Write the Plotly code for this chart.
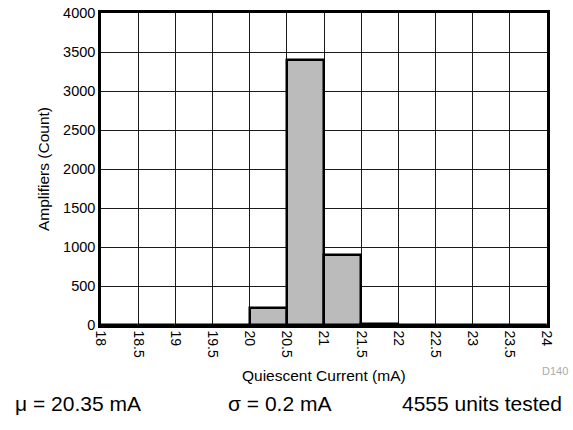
import plotly.graph_objects as go

bin_left = [18.0, 18.5, 19.0, 19.5, 20.0, 20.5, 21.0, 21.5, 22.0, 22.5, 23.0, 23.5]
counts = [0, 0, 0, 0, 222, 3400, 900, 18, 0, 0, 0, 0]
bin_width = 0.5
x_ticks = [18, 18.5, 19, 19.5, 20, 20.5, 21, 21.5, 22, 22.5, 23, 23.5, 24]
x_tick_labels = ["18", "18.5", "19", "19.5", "20", "20.5", "21", "21.5", "22", "22.5", "23", "23.5", "24"]
y_ticks = [0, 500, 1000, 1500, 2000, 2500, 3000, 3500, 4000]

x_title = "Quiescent Current (mA)"
y_title = "Amplifiers (Count)"
stats = ["μ = 20.35 mA", "σ = 0.2 mA", "4555 units tested"]
code = "D140"

FONT = "Liberation Sans, Arial, sans-serif"

fig = go.Figure()
fig.add_trace(go.Bar(
    x=[b + bin_width / 2 for b in bin_left],
    y=counts,
    width=[bin_width] * len(bin_left),
    marker=dict(color="#bbbbbb", line=dict(color="black", width=2.5)),
    showlegend=False,
    hoverinfo="skip",
))

fig.update_layout(
    width=573, height=430,
    autosize=False,
    margin=dict(l=101, r=26, t=13, b=105, pad=0, autoexpand=False),
    paper_bgcolor="white", plot_bgcolor="white",
    font=dict(family=FONT, color="black", size=14),
    bargap=0,
    xaxis=dict(
        range=[18, 24], tickvals=x_ticks, ticktext=x_tick_labels, tickangle=90,
        showgrid=True, gridcolor="#1a1a1a", gridwidth=1.2,
        showline=True, linecolor="black", linewidth=2.5, mirror=True,
        ticks="", zeroline=False, tickfont=dict(size=14), automargin=False,
    ),
    yaxis=dict(
        range=[0, 4000], tickvals=y_ticks,
        showgrid=True, gridcolor="#1a1a1a", gridwidth=1.2,
        showline=True, linecolor="black", linewidth=2.5, mirror=True,
        ticks="", zeroline=False, tickfont=dict(size=14.5), automargin=False,
    ),
)

ann = [
    dict(text=x_title, x=0.5, y=-0.163, xanchor="center", yanchor="middle", font=dict(size=15.5)),
    dict(text=y_title, x=-0.13, y=0.5, xanchor="center", yanchor="middle", textangle=-90, font=dict(size=15.5)),
    dict(text=code, x=1.018, y=-0.147, xanchor="center", yanchor="middle", font=dict(size=11, color="#aaaaaa")),
    dict(text=stats[0], x=-0.197, y=-0.252, xanchor="left", yanchor="middle", font=dict(size=21)),
    dict(text=stats[1], x=0.280, y=-0.252, xanchor="left", yanchor="middle", font=dict(size=21)),
    dict(text=stats[2], x=1.038, y=-0.252, xanchor="right", yanchor="middle", font=dict(size=21)),
]
for a in ann:
    fig.add_annotation(xref="paper", yref="paper", showarrow=False, **a)

fig.write_html(
    "out.html",
    config={"displayModeBar": False},
    post_script="document.body.style.margin='0px';document.body.style.padding='0px';document.body.style.overflow='hidden';",
)
